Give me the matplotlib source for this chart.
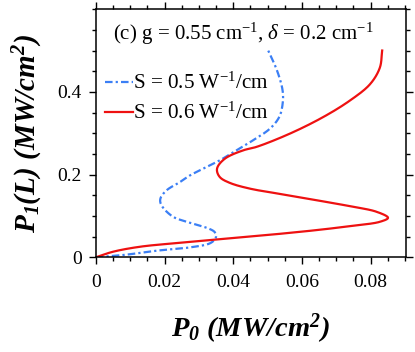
import numpy as np
import matplotlib
matplotlib.use("Agg")
import matplotlib.pyplot as plt
from matplotlib.ticker import MultipleLocator

plt.rcParams['font.family'] = 'Liberation Serif'
plt.rcParams['mathtext.fontset'] = 'custom'
plt.rcParams['mathtext.rm'] = 'Liberation Serif'
plt.rcParams['mathtext.it'] = 'Liberation Serif:italic'
plt.rcParams['mathtext.bf'] = 'Liberation Serif:bold'
plt.rcParams['mathtext.default'] = 'regular'

# S = 0.5 W^-1/cm  (output P1(L) vs input P0)
p1_s05 = [0.0, 0.0055, 0.016, 0.024, 0.0337, 0.045, 0.0537, 0.062, 0.070,
          0.0834, 0.098, 0.126, 0.142, 0.162, 0.182, 0.198, 0.2145, 0.2345,
          0.259, 0.283, 0.311, 0.339, 0.371, 0.403, 0.451, 0.50]
p0_s05 = [0.0, 0.008, 0.0177, 0.0274, 0.0332, 0.0348, 0.035, 0.0345, 0.0327,
          0.0274, 0.0225, 0.0191, 0.0188, 0.0206, 0.0245, 0.0274, 0.0313, 0.0361,
          0.041, 0.0458, 0.0507, 0.0534, 0.0544, 0.0544, 0.0528, 0.0502]

# S = 0.6 W^-1/cm
p1_s06 = [0.0, 0.0135, 0.0255, 0.0337, 0.0434, 0.0537, 0.0658, 0.0754, 0.0858,
          0.0955, 0.110, 0.1236, 0.138, 0.152, 0.166, 0.180, 0.194, 0.2145,
          0.2386, 0.2586, 0.267, 0.299, 0.339, 0.379, 0.418, 0.458, 0.50]
p0_s06 = [0.0, 0.005, 0.0128, 0.0225, 0.0361, 0.0497, 0.0643, 0.074, 0.0827,
          0.0851, 0.0818, 0.074, 0.0643, 0.0546, 0.0449, 0.039, 0.0361, 0.0353,
          0.0376, 0.0429, 0.0468, 0.0565, 0.0662, 0.074, 0.0798, 0.0827, 0.0834]

XMAX, YMAX = 0.0903, 0.6


def smooth(x, y, n=30):
    # centripetal Catmull-Rom through the read points (in axis-normalised units)
    pts = np.column_stack([np.array(x) / XMAX, np.array(y) / YMAX])
    pts = np.vstack([2 * pts[0] - pts[1], pts, 2 * pts[-1] - pts[-2]])
    out = []
    for i in range(1, len(pts) - 2):
        P0, P1, P2, P3 = pts[i - 1], pts[i], pts[i + 1], pts[i + 2]
        t0 = 0.0
        t1 = t0 + np.linalg.norm(P1 - P0) ** 0.5
        t2 = t1 + np.linalg.norm(P2 - P1) ** 0.5
        t3 = t2 + np.linalg.norm(P3 - P2) ** 0.5
        t = np.linspace(t1, t2, n, endpoint=False)[:, None]
        A1 = (t1 - t) / (t1 - t0) * P0 + (t - t0) / (t1 - t0) * P1
        A2 = (t2 - t) / (t2 - t1) * P1 + (t - t1) / (t2 - t1) * P2
        A3 = (t3 - t) / (t3 - t2) * P2 + (t - t2) / (t3 - t2) * P3
        B1 = (t2 - t) / (t2 - t0) * A1 + (t - t0) / (t2 - t0) * A2
        B2 = (t3 - t) / (t3 - t1) * A2 + (t - t1) / (t3 - t1) * A3
        out.append((t2 - t) / (t2 - t1) * B1 + (t - t1) / (t2 - t1) * B2)
    out.append(pts[-2][None, :])
    out = np.vstack(out)
    return out[:, 0] * XMAX, out[:, 1] * YMAX


fig = plt.figure(figsize=(4.15, 3.52), dpi=100)
ax = fig.add_axes([0.231, 0.269, 0.747, 0.705])

xs, ys = smooth(p0_s05, p1_s05)
ax.plot(xs, ys, color='#3b7ff5', lw=1.6, linestyle=(0, (3.4, 1.4, 1.0, 1.4)),
        label=r'S = 0.5 W$^{-1}$/cm')
xs, ys = smooth(p0_s06, p1_s06)
ax.plot(xs, ys, color='#ee1111', lw=1.6, label=r'S = 0.6 W$^{-1}$/cm')

ax.set_xlim(0, XMAX)
ax.set_ylim(0, YMAX)
ax.xaxis.set_minor_locator(MultipleLocator(0.005))
ax.yaxis.set_minor_locator(MultipleLocator(0.05))
ax.set_xticks([0, 0.02, 0.04, 0.06, 0.08])
ax.set_xticklabels(['0', '0.02', '0.04', '0.06', '0.08'])
ax.set_yticks([0, 0.2, 0.4])
ax.set_yticklabels(['0', '0.2', '0.4'])
ax.tick_params(which='both', direction='out', top=True, right=True,
               labelsize=14, width=1.0)
ax.tick_params(which='major', length=5)
ax.tick_params(which='minor', length=3)
ax.tick_params(axis='x', which='major', pad=7)
ax.tick_params(axis='y', which='major', pad=5)
for s in ax.spines.values():
    s.set_linewidth(1.1)

ax.set_xlabel(r'$P_0$ (MW/cm$^2$)', fontsize=20.5, fontweight='bold',
              fontstyle='italic', labelpad=15)
ax.set_ylabel(r'$P_1$($L$) (MW/cm$^2$)', fontsize=21, fontweight='bold',
              fontstyle='italic', labelpad=9)

ax.text(0.477, 0.9, r'(c) g = 0.55 cm$^{-1}$, $\mathit{\delta}$ = 0.2 cm$^{-1}$',
        transform=ax.transAxes, ha='center', va='center', fontsize=15)

ax.legend(loc='upper left', bbox_to_anchor=(-0.01, 0.795), frameon=False,
          fontsize=15.2, handlelength=1.3, handletextpad=0.02,
          borderaxespad=0.2, labelspacing=0.42)

fig.savefig('out.png', dpi=100)
